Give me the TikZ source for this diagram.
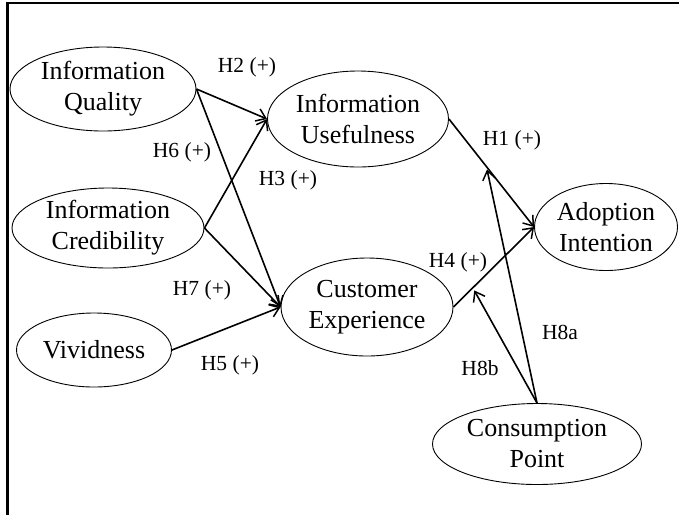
\documentclass[tikz,border=0pt]{standalone}
\usepackage{fontspec}
\setmainfont{Liberation Serif}
\usetikzlibrary{arrows.meta,shapes.geometric,calc}

\tikzset{
  var/.style={draw, ellipse, line width=0.9pt, inner sep=0pt, align=center,
    font=\fontsize{26}{31}\selectfont},
  hyp/.style={-{Straight Barb[length=9pt,width=13pt,line width=1.5pt]}, line width=1.6pt},
  lab/.style={font=\fontsize{21.5}{24}\selectfont}
}

\begin{document}
\begin{tikzpicture}[x=1pt,y=-1pt]
        \useasboundingbox (0,0) rectangle (679,515);
        \draw[line width=2.5pt] (679,3) -- (7.5,3) -- (7.5,515);

        % constructs
        \node[var, minimum width=186pt, minimum height=84pt] (iq) at (103,89) {Information\\Quality};
        \node[var, minimum width=192pt, minimum height=80pt] (ic) at (108,228) {Information\\Credibility};
        \node[var, minimum width=155pt, minimum height=74pt] (viv) at (94,350) {Vividness};
        \node[var, minimum width=181pt, minimum height=96pt] (iu) at (358,119) {Information\\Usefulness};
        \node[var, minimum width=172pt, minimum height=98pt] (ce) at (367,307) {Customer\\Experience};
        \node[var, minimum width=143pt, minimum height=87pt] (ai) at (606,227) {Adoption\\Intention};
        \node[var, minimum width=209pt, minimum height=81pt] (cp) at (537,444) {Consumption\\Point};

        % paths
        \draw[hyp] (iq.east) -- (iu.west);
        \draw[hyp] (ic.east) -- (iu.west);
        \draw[hyp] (iq.east) -- (ce.west);
        \draw[hyp] (ic.east) -- (ce.west);
        \draw[hyp] (viv.east) -- (ce.west);
        \draw[hyp] (iu.east) -- (ai.west);
        \draw[hyp] (ce.east) -- (ai.west);

        % moderation
        \coordinate (m1) at ($(iu.east)!0.44!(ai.west)$);
        \coordinate (m2) at ($(ce.east)!0.24!(ai.west)$);
        \draw[hyp, shorten >=3pt] (cp.north) -- (m1);
        \draw[hyp, shorten >=3pt] (cp.north) -- (m2);

        \node[lab] (h2) at (247,67) {H2 (+)};
        \node[lab] (h6) at (182,152) {H6 (+)};
        \node[lab] (h3) at (288,180) {H3 (+)};
        \node[lab] (h1) at (512,140) {H1 (+)};
        \node[lab] (h4) at (458,262) {H4 (+)};
        \node[lab] (h7) at (202,290) {H7 (+)};
        \node[lab] (h5) at (230,365) {H5 (+)};
        \node[lab] (h8a) at (560,332) {H8a};
        \node[lab] (h8b) at (480,368) {H8b};

    \end{tikzpicture}
\end{document}
